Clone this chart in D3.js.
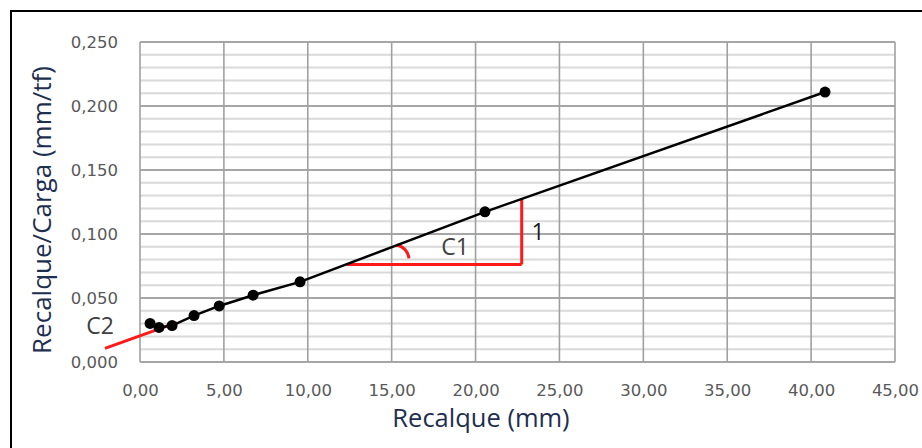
<!DOCTYPE html>
<html>
<head>
<meta charset="utf-8">
<script src="https://cdn.jsdelivr.net/npm/d3@7"></script>
<style>
  html, body { margin: 0; padding: 0; background: #fff; }
  svg { display: block; }
</style>
</head>
<body>
<svg id="chart" width="922" height="448"></svg>
<script>
// Recalque (mm) versus Recalque/Carga (mm/tf)
const recalque = [0.60, 1.13, 1.91, 3.22, 4.72, 6.74, 9.54, 20.56, 40.83];
const razao    = [0.0301, 0.0270, 0.0285, 0.0363, 0.0438, 0.0522, 0.0626, 0.1173, 0.2109];

const xTicks = [0, 5, 10, 15, 20, 25, 30, 35, 40, 45];
const yTicks = [0, 0.05, 0.10, 0.15, 0.20, 0.25];
const yMinor = d3.range(0, 0.2501, 0.01);

// Construction lines: slope triangle (C1) and intercept line (C2)
const c1Horizontal = [[12.32, 0.0762], [22.75, 0.0762]];
const c1Vertical   = [[22.75, 0.0762], [22.75, 0.1279]];
const c1Arc        = [[15.30, 0.0914], [16.03, 0.0810]];
const c2Line       = [[-2.09, 0.0107], [2.19, 0.0307]];

const fmt = d => d3.format(".2f")(d).replace(".", ",");
const fmtY = d => d3.format(".3f")(d).replace(".", ",");

const svg = d3.select("#chart");
const x = d3.scaleLinear().domain([0, 45]).range([140, 895]);
const y = d3.scaleLinear().domain([0, 0.25]).range([362, 42]);

// outer frame
svg.append("path")
  .attr("d", "M11,448 V11 H922")
  .attr("fill", "none").attr("stroke", "#000").attr("stroke-width", 2);

// minor horizontal grid
svg.append("g").selectAll("line").data(yMinor).join("line")
  .attr("x1", x(0)).attr("x2", x(45))
  .attr("y1", d => y(d)).attr("y2", d => y(d))
  .attr("stroke", "#d9d9d9").attr("stroke-width", 2);

// major horizontal grid
svg.append("g").selectAll("line").data(yTicks).join("line")
  .attr("x1", x(0)).attr("x2", x(45))
  .attr("y1", d => y(d)).attr("y2", d => y(d))
  .attr("stroke", "#a6a6a6").attr("stroke-width", 2);

// vertical grid
svg.append("g").selectAll("line").data(xTicks).join("line")
  .attr("x1", d => x(d)).attr("x2", d => x(d))
  .attr("y1", y(0)).attr("y2", y(0.25))
  .attr("stroke", "#a0a0a0").attr("stroke-width", 1.6);

// tick labels via d3 axes (no domain or tick lines)
const xAxis = svg.append("g").attr("transform", `translate(0,${y(0) + 19})`)
  .call(d3.axisBottom(x).tickValues(xTicks).tickFormat(fmt).tickSize(0));
const yAxis = svg.append("g").attr("transform", `translate(${x(0) - 19},0)`)
  .call(d3.axisLeft(y).tickValues(yTicks).tickFormat(fmtY).tickSize(0));
[xAxis, yAxis].forEach(g => {
  g.select(".domain").remove();
  g.selectAll("text")
    .attr("fill", "#595959")
    .style("font-family", "'DejaVu Sans', sans-serif")
    .style("font-size", "16.5px");
});

// axis titles
svg.append("text")
  .attr("x", 481).attr("y", 427)
  .attr("text-anchor", "middle")
  .attr("fill", "#1f2f50")
  .style("font-family", "'Open Sans', sans-serif")
  .style("font-size", "25.5px")
  .text("Recalque (mm)");
svg.append("text")
  .attr("transform", "translate(51,210) rotate(-90)")
  .attr("text-anchor", "middle")
  .attr("fill", "#1f2f50")
  .style("font-family", "'Open Sans', sans-serif")
  .style("font-size", "26px")
  .text("Recalque/Carga (mm/tf)");

// red construction lines
const line = d3.line().x(d => x(d[0])).y(d => y(d[1]));
[c1Horizontal, c1Vertical, c2Line].forEach(seg => {
  svg.append("path").attr("d", line(seg))
    .attr("fill", "none").attr("stroke", "#ff1a1a").attr("stroke-width", 3);
});
svg.append("path")
  .attr("d", `M${x(c1Arc[0][0])},${y(c1Arc[0][1])} A15,15 0 0 1 ${x(c1Arc[1][0])},${y(c1Arc[1][1])}`)
  .attr("fill", "none").attr("stroke", "#ff1a1a").attr("stroke-width", 3);

// data series
const pts = recalque.map((v, i) => [v, razao[i]]);
svg.append("path").attr("d", line(pts))
  .attr("fill", "none").attr("stroke", "#000").attr("stroke-width", 2.5);
svg.append("g").selectAll("circle").data(pts).join("circle")
  .attr("cx", d => x(d[0])).attr("cy", d => y(d[1])).attr("r", 5.5)
  .attr("fill", "#000");

// annotations
const ann = [["C1", 455, 255, "#404040"], ["1", 538, 240, "#1a1a1a"], ["C2", 100, 334, "#404040"]];
svg.append("g").selectAll("text").data(ann).join("text")
  .attr("x", d => d[1]).attr("y", d => d[2])
  .attr("text-anchor", "middle")
  .attr("fill", d => d[3])
  .style("font-family", "'Open Sans', sans-serif")
  .style("font-size", "23px")
  .text(d => d[0]);
</script>
</body>
</html>
